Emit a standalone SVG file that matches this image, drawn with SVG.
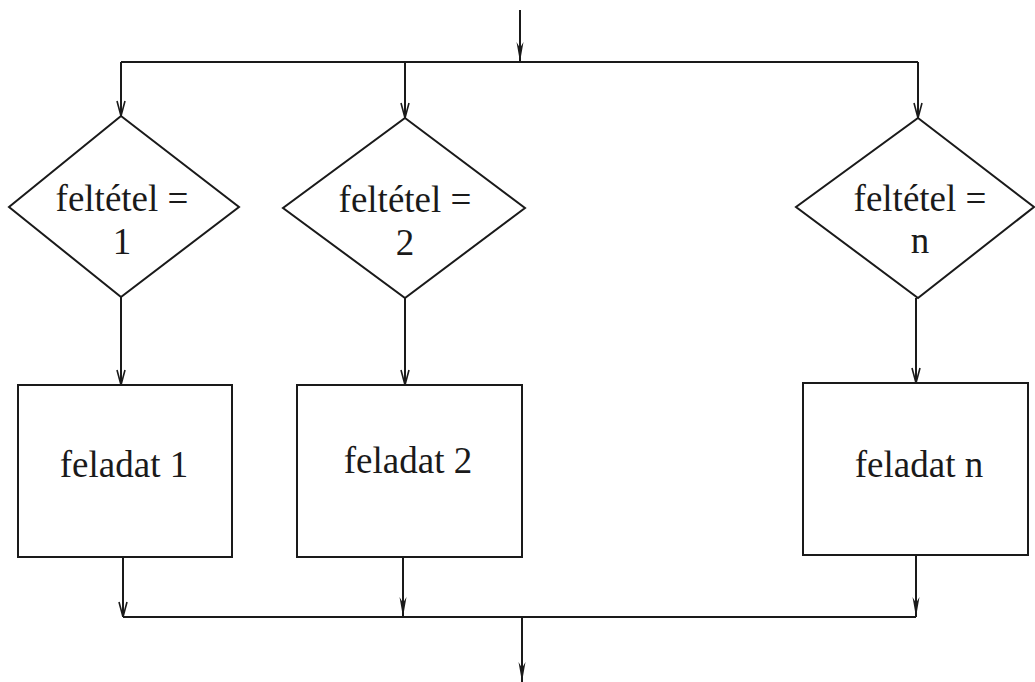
<svg xmlns="http://www.w3.org/2000/svg" width="1035" height="682" viewBox="0 0 1035 682">
  <style>
    .shape { fill: none; stroke: #1a1a1a; stroke-width: 2; }
    .wire { fill: none; stroke: #1a1a1a; stroke-width: 2; }
    .label { font-family: "Liberation Serif", "Times New Roman", serif; font-size: 37px; fill: #1a1a1a; text-anchor: middle; }
  </style>
  <defs>
    <!-- open vee arrowhead, drawn pointing along +x -->
    <marker id="vee" viewBox="0 0 16 10" refX="16" refY="5" markerWidth="16" markerHeight="10" markerUnits="userSpaceOnUse" orient="auto">
      <path d="M1,1 L16,5 L1,9" fill="none" stroke="#1a1a1a" stroke-width="1.6"/>
    </marker>
    <!-- narrow filled dart, drawn pointing along +x -->
    <marker id="dart" viewBox="0 0 20 8" refX="20" refY="4" markerWidth="20" markerHeight="8" markerUnits="userSpaceOnUse" orient="auto">
      <path d="M0,0.5 L20,4 L0,7.5 L6,4 Z" fill="#1a1a1a"/>
    </marker>
  </defs>
  <rect width="1035" height="682" fill="#ffffff"/>

  <!-- connectors -->
  <g id="connectors">
    <!-- entry -->
    <path class="wire" d="M520,10 V62" marker-end="url(#dart)"/>
    <!-- distribution bus -->
    <path class="wire" d="M121,62 H918"/>
    <path class="wire" d="M121,62 V116" marker-end="url(#vee)"/>
    <path class="wire" d="M405,62 V118" marker-end="url(#vee)"/>
    <path class="wire" d="M918,62 V118" marker-end="url(#vee)"/>
    <!-- condition to task -->
    <path class="wire" d="M121,297 V385" marker-end="url(#vee)"/>
    <path class="wire" d="M405,298 V385" marker-end="url(#vee)"/>
    <path class="wire" d="M916,298 V383" marker-end="url(#vee)"/>
    <!-- task to collector bus -->
    <path class="wire" d="M123,557 V617" marker-end="url(#vee)"/>
    <path class="wire" d="M403,557 V617" marker-end="url(#dart)"/>
    <path class="wire" d="M916,555 V617" marker-end="url(#dart)"/>
    <path class="wire" d="M123,617 H916"/>
    <!-- exit -->
    <path class="wire" d="M522,617 V682" marker-end="url(#dart)"/>
  </g>

  <!-- condition nodes -->
  <g id="cond1">
    <polygon class="shape" points="121,116 239,207 121,297 9,207"/>
    <text class="label" x="122" y="211">feltétel =</text>
    <text class="label" x="122" y="254">1</text>
  </g>
  <g id="cond2">
    <polygon class="shape" points="405,118 525,208 405,298 283,208"/>
    <text class="label" x="405" y="212">feltétel =</text>
    <text class="label" x="405" y="255">2</text>
  </g>
  <g id="condN">
    <polygon class="shape" points="918,118 1034,207 918,298 796,207"/>
    <text class="label" x="920" y="211">feltétel =</text>
    <text class="label" x="920" y="253">n</text>
  </g>

  <!-- task nodes -->
  <g id="task1">
    <rect class="shape" x="18" y="385" width="214" height="172"/>
    <text class="label" x="124" y="477">feladat 1</text>
  </g>
  <g id="task2">
    <rect class="shape" x="297" y="385" width="225" height="172"/>
    <text class="label" x="408" y="473">feladat 2</text>
  </g>
  <g id="taskN">
    <rect class="shape" x="803" y="383" width="225" height="172"/>
    <text class="label" x="919" y="477">feladat n</text>
  </g>
</svg>
